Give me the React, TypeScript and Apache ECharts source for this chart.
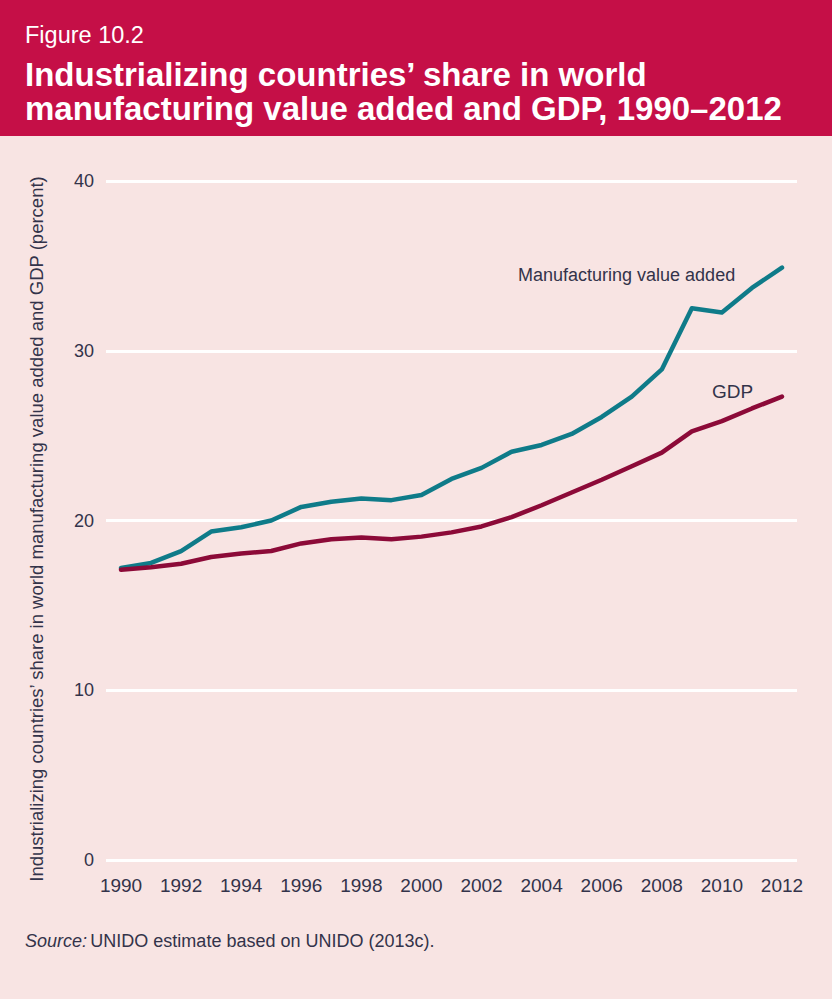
import React, { useEffect, useRef } from "react";
import * as echarts from "echarts";

const years = ["1990","1991","1992","1993","1994","1995","1996","1997","1998","1999","2000","2001","2002","2003","2004","2005","2006","2007","2008","2009","2010","2011","2012"];
const mva = [17.2,17.5,18.2,19.35,19.6,20.0,20.8,21.1,21.3,21.2,21.5,22.45,23.1,24.05,24.45,25.1,26.1,27.3,28.9,32.5,32.25,33.7,34.9];
const gdp = [17.1,17.25,17.45,17.85,18.05,18.2,18.65,18.9,19.0,18.9,19.05,19.3,19.65,20.2,20.9,21.65,22.4,23.2,24.0,25.25,25.85,26.6,27.3];
const yTicks = [0, 10, 20, 30, 40];

const CRIMSON = "#C50F47";
const PINK = "#F8E4E3";
const TEAL = "#0F7B89";
const WINE = "#8C0A38";
const TXT = "#33334a";
const FONT = "'Liberation Sans', Arial, sans-serif";

export default function App() {
  const ref = useRef<HTMLDivElement>(null);
  useEffect(() => {
    document.body.style.margin = "0";
    const chart = echarts.init(ref.current!, null, { renderer: "svg" });
    chart.setOption({
      animation: false,
      backgroundColor: PINK,
      grid: { left: 106, right: 35, top: 181, bottom: 139 },
      xAxis: {
        type: "category",
        data: years,
        boundaryGap: true,
        axisLine: { show: false },
        axisTick: { show: false },
        axisLabel: {
          interval: 1,
          margin: 16,
          fontFamily: FONT,
          fontSize: 19,
          color: TXT,
        },
      },
      yAxis: {
        type: "value",
        min: yTicks[0],
        max: yTicks[yTicks.length - 1],
        interval: 10,
        axisLine: { show: false },
        axisTick: { show: false },
        axisLabel: { margin: 12, fontFamily: FONT, fontSize: 18, color: TXT },
        splitLine: { lineStyle: { color: "#ffffff", width: 3 } },
      },
      series: [
        {
          type: "line",
          name: "Manufacturing value added",
          data: mva,
          symbol: "none",
          lineStyle: { color: TEAL, width: 4.5, cap: "round", join: "round" },
        },
        {
          type: "line",
          name: "GDP",
          data: gdp,
          symbol: "none",
          lineStyle: { color: WINE, width: 4.5, cap: "round", join: "round" },
        },
      ],
      graphic: [
        { type: "rect", left: 0, top: 0, shape: { width: 832, height: 136 }, style: { fill: CRIMSON } },
        { type: "text", left: 25, top: 23, style: { text: "Figure 10.2", fill: "#ffffff", font: `23.5px ${FONT}` } },
        { type: "text", left: 25, top: 58, style: { text: "Industrializing countries’ share in world", fill: "#ffffff", font: `bold 33px ${FONT}` } },
        { type: "text", left: 25, top: 92, style: { text: "manufacturing value added and GDP, 1990–2012", fill: "#ffffff", font: `bold 33px ${FONT}` } },
        {
          type: "text", x: 36, y: 529, rotation: Math.PI / 2,
          style: {
            text: "Industrializing countries’ share in world manufacturing value added and GDP (percent)",
            fill: TXT, font: `18.5px ${FONT}`, align: "center", verticalAlign: "middle",
          },
        },
        { type: "text", left: 518, top: 266, style: { text: "Manufacturing value added", fill: TXT, font: `18px ${FONT}` } },
        { type: "text", left: 712, top: 382, style: { text: "GDP", fill: TXT, font: `19px ${FONT}` } },
        {
          type: "text", left: 25, top: 932,
          style: {
            rich: {
              i: { fontFamily: FONT, fontStyle: "italic", fontSize: 18, fill: TXT },
              n: { fontFamily: FONT, fontSize: 18, fill: TXT },
            },
            text: "{i|Source:} {n|UNIDO estimate based on UNIDO (2013c).}",
          },
        },
      ],
    });
    return () => chart.dispose();
  }, []);
  return <div ref={ref} style={{ position: "absolute", left: 0, top: 0, width: 832, height: 999 }} />;
}
